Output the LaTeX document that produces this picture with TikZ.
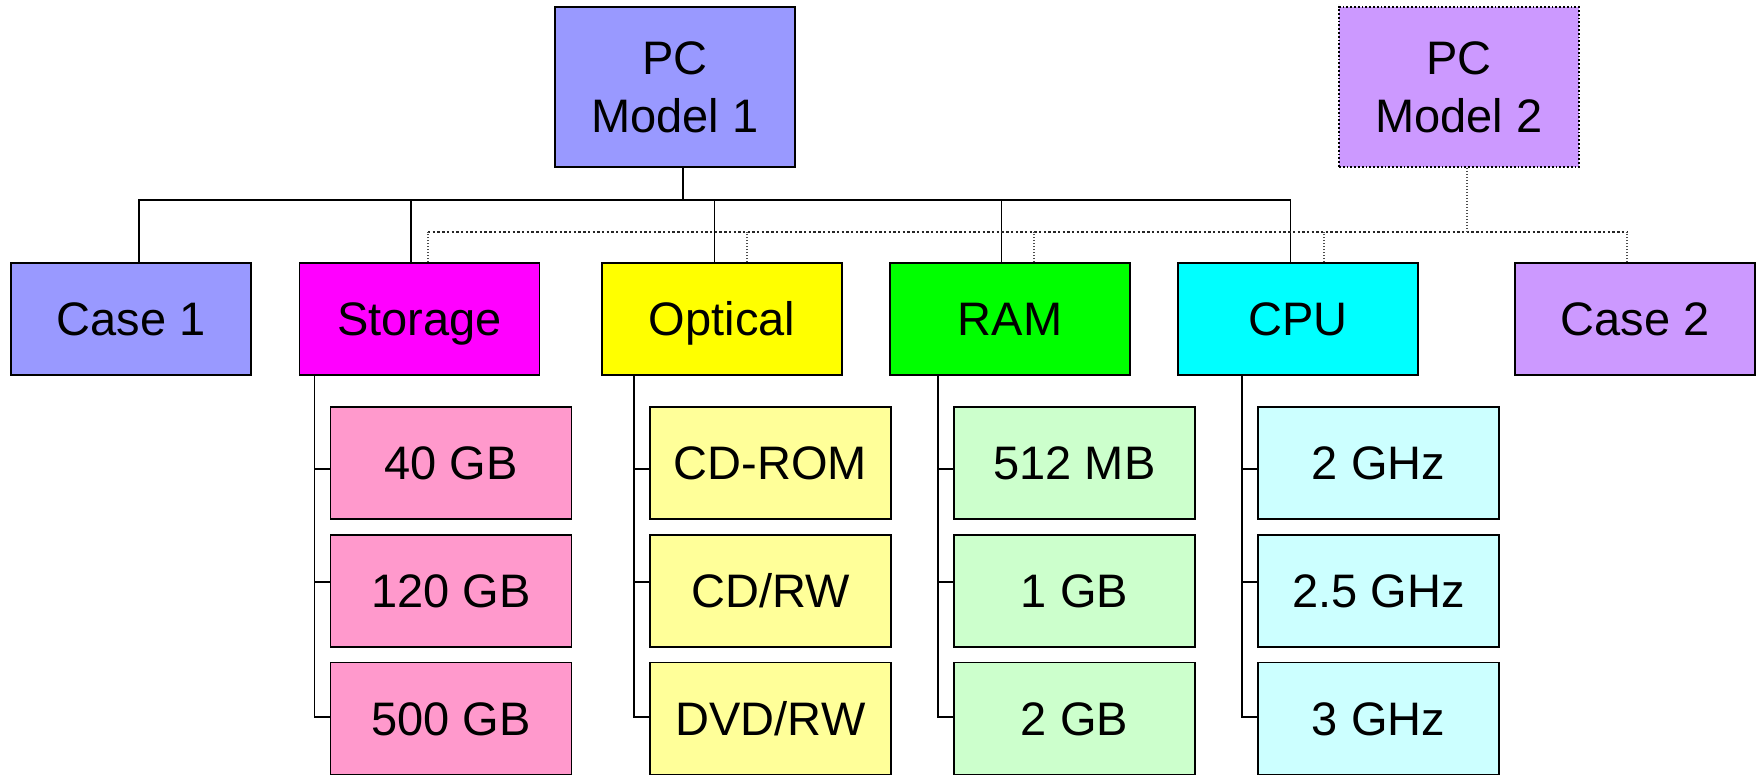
\documentclass[tikz,border=0pt]{standalone}
\usepackage{fontspec}
\setmainfont{Liberation Sans}
\usetikzlibrary{calc}

\definecolor{pcblue}{HTML}{9999FF}
\definecolor{pcviolet}{HTML}{CC99FF}
\definecolor{stor}{HTML}{FF00FF}
\definecolor{opt}{HTML}{FFFF00}
\definecolor{ramc}{HTML}{00FF00}
\definecolor{cpuc}{HTML}{00FFFF}
\definecolor{storlt}{HTML}{FF99CC}
\definecolor{optlt}{HTML}{FFFF99}
\definecolor{ramlt}{HTML}{CCFFCC}
\definecolor{cpult}{HTML}{CCFFFF}

\begin{document}
\begin{tikzpicture}[x=1pt,y=-1pt,
  boxbase/.style={draw=black, line width=1.8pt, rectangle, inner sep=0pt,
    minimum width=240pt, minimum height=112pt,
    font=\fontsize{47}{58}\selectfont, align=center},
  box/.style={boxbase, text height=33.7pt, text depth=0pt},
  head/.style={boxbase, minimum height=160pt},
  item/.style={box, minimum width=241pt},
  tree/.style={line width=1.4pt, black},
  altbus/.style={line width=2.5pt, dash pattern=on 2.4pt off 2.3pt, black!85},
  altdrop/.style={line width=1.3pt, dash pattern=on 1.5pt off 1.5pt, black!70}]
\useasboundingbox (0,0) rectangle (1758,775);

% roots
\node[head, fill=pcblue] (pc1) at (675,87) {PC\\Model 1};
\node[head, fill=pcviolet, dotted] (pc2) at (1459,87) {PC\\Model 2};

% components
\node[box, fill=pcblue]   (case1)   at (131,319)   {Case 1};
\node[box, fill=stor]     (storage) at (419.5,319) {Storage};
\node[box, fill=opt]      (optical) at (722,319)   {Optical};
\node[box, fill=ramc]     (ram)     at (1010,319)  {RAM};
\node[box, fill=cpuc]     (cpu)     at (1298,319)  {CPU};
\node[box, fill=pcviolet] (case2)   at (1635,319)  {Case 2};

% options
\node[item, fill=storlt] (s1) at (451,463)   {40 GB};
\node[item, fill=storlt] (s2) at (451,591)   {120 GB};
\node[item, fill=storlt] (s3) at (451,718.5) {500 GB};
\node[item, fill=optlt]  (o1) at (770.5,463)   {CD-ROM};
\node[item, fill=optlt]  (o2) at (770.5,591)   {CD/RW};
\node[item, fill=optlt]  (o3) at (770.5,718.5) {DVD/RW};
\node[item, fill=ramlt]  (r1) at (1074.5,463)   {512 MB};
\node[item, fill=ramlt]  (r2) at (1074.5,591)   {1 GB};
\node[item, fill=ramlt]  (r3) at (1074.5,718.5) {2 GB};
\node[item, fill=cpult]  (c1) at (1378.5,463)   {2 GHz};
\node[item, fill=cpult]  (c2) at (1378.5,591)   {2.5 GHz};
\node[item, fill=cpult]  (c3) at (1378.5,718.5) {3 GHz};

% model 1 tree
\coordinate (bus) at ($(pc1.south)+(8,32)$);
\coordinate (d1) at ($(case1.north)+(8,0)$);
\coordinate (d2) at ($(storage.north)+(-8.5,0)$);
\coordinate (d3) at ($(optical.north)+(-7.5,0)$);
\coordinate (d4) at ($(ram.north)+(-8.5,0)$);
\coordinate (d5) at ($(cpu.north)+(-7.5,0)$);
\draw[tree] (pc1.south -| bus) -- (bus);
\draw[tree] (d1) |- (bus) -| (d5);
\foreach \d in {d2,d3,d4} \draw[tree] (\d) -- (\d |- bus);

% model 2 tree
\coordinate (abus) at ($(pc2.south)+(8,64)$);
\coordinate (e1) at ($(storage.north)+(8.5,0)$);
\coordinate (e2) at ($(optical.north)+(25,0)$);
\coordinate (e3) at ($(ram.north)+(24,0)$);
\coordinate (e4) at ($(cpu.north)+(26,0)$);
\coordinate (e5) at ($(case2.north)+(-8,0)$);
\draw[altbus] (e1 |- abus) -- (e5 |- abus);
\draw[altdrop] (pc2.south -| abus) -- (abus);
\foreach \e in {e1,e2,e3,e4,e5} \draw[altdrop] (\e) -- (\e |- abus);

% option lists
\foreach \p/\a/\b/\c in {storage/s1/s2/s3, optical/o1/o2/o3, ram/r1/r2/r3, cpu/c1/c2/c3}{
  \coordinate (v) at ($(\a.west)+(-15,0)$);
  \coordinate (t1) at ($(\a.west)+(0,6)$);
  \coordinate (t2) at ($(\b.west)+(0,-9)$);
  \coordinate (t3) at ($(\c.west)+(0,-1.5)$);
  \draw[tree] (v |- \p.south) |- (t3);
  \draw[tree] (v |- t1) -- (t1);
  \draw[tree] (v |- t2) -- (t2);
}
\end{tikzpicture}
\end{document}
